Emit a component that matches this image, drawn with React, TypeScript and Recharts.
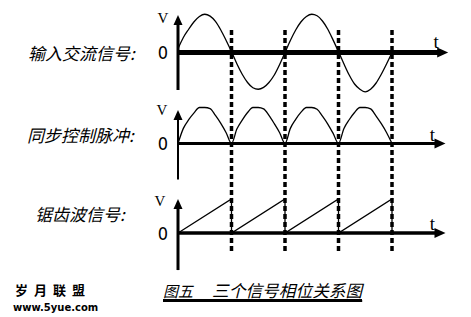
import React from 'react';
import { LineChart, Line, XAxis, YAxis, ReferenceLine } from 'recharts';

// ---------- data ----------
const signalNames = ['输入交流信号:', '同步控制脉冲:', '锯齿波信号:'];
const captionParts = ['图五', '三个信号相位关系图'];
const watermarkLines = ['岁月联盟', 'www.5yue.com'];
const axisTexts = { value: 'V', time: 't', zero: '0' };

const timeDomain = [0, 50];
const sampleTimes = [
  0, 1, 2, 3, 4, 5, 6, 7, 8, 9, 10, 11, 12, 13, 14, 15, 16, 17, 18, 19, 20,
  21, 22, 23, 24, 25, 26, 27, 28, 29, 30, 31, 32, 33, 34, 35, 36, 37, 38, 39, 40,
];
const acValues = [
  0.1, 0.4, 0.62, 0.82, 0.96, 1.02, 0.97, 0.83, 0.6, 0.32, 0.02,
  -0.3, -0.58, -0.8, -0.94, -0.98, -0.93, -0.8, -0.6, -0.32, 0,
  0.32, 0.6, 0.82, 0.96, 1.02, 0.98, 0.84, 0.62, 0.33, 0.02,
  -0.3, -0.6, -0.84, -0.98, -1.05, -0.98, -0.82, -0.58, -0.3, 0,
];
const pulseValues = [
  0, 0.42, 0.66, 0.85, 1, 1, 0.97, 0.78, 0.56, 0.3, 0,
  0.4, 0.65, 0.86, 1, 1, 0.96, 0.78, 0.55, 0.3, 0,
  0.42, 0.67, 0.87, 1, 1, 0.95, 0.76, 0.54, 0.28, 0,
  0.41, 0.66, 0.86, 1, 1, 0.96, 0.77, 0.55, 0.3, 0,
];
const sawTimes = [0, 10, 10, 20, 20, 30, 30, 40, 40];
const sawValues = [0, 1, 0, 1, 0, 1, 0, 1, 0];
const syncTimes = [10, 20, 30, 40];

const acRows = sampleTimes.map((t, i) => ({ t, v: acValues[i] }));
const pulseRows = sampleTimes.map((t, i) => ({ t, v: pulseValues[i] }));
const sawRows = sawTimes.map((t, i) => ({ t, v: sawValues[i] }));

// ---------- layout / style ----------
const W = 471;
const H = 317;
const LEFT = 178;
const RIGHT = 25.5;

type LabelSpec = { text: string; at: 'start' | 'end'; dx: number; dy: number; font: string; size: number };

function arrowShape(head: number, half: number, width: number, labels: LabelSpec[]) {
  return (p: any) => {
    const { x1, y1, x2, y2 } = p;
    if (![x1, y1, x2, y2].every((n) => typeof n === 'number' && isFinite(n))) return <g />;
    const dx = x2 - x1;
    const dy = y2 - y1;
    const len = Math.hypot(dx, dy) || 1;
    const ux = dx / len;
    const uy = dy / len;
    const bx = x2 - ux * head;
    const by = y2 - uy * head;
    const px = -uy;
    const py = ux;
    return (
      <g>
        <line x1={x1} y1={y1} x2={bx + ux} y2={by + uy} stroke="#000" strokeWidth={width} />
        <polygon
          points={`${x2},${y2} ${bx + px * half},${by + py * half} ${bx - px * half},${by - py * half}`}
          fill="#000"
        />
        {labels.map((l, i) => {
          const ox = l.at === 'start' ? x1 : x2;
          const oy = l.at === 'start' ? y1 : y2;
          return (
            <text
              key={i}
              x={ox + l.dx}
              y={oy + l.dy}
              textAnchor="middle"
              dominantBaseline="central"
              fontFamily={l.font}
              fontSize={l.size}
              fill="#000"
            >
              {l.text}
            </text>
          );
        })}
      </g>
    );
  };
}

const SERIF = "'Liberation Serif', serif";
const NARROW = "'Liberation Sans Narrow', 'DejaVu Sans Condensed', sans-serif";

type PanelProps = {
  rows: { t: number; v: number }[];
  top: number;
  bottom: number;
  domain: [number, number];
  xEnd: number;
  yAxisRange: [number, number];
  xWidth: number;
  yWidth: number;
  curve: 'monotone' | 'linear';
  vOffset: [number, number];
  tOffset: [number, number];
  markerRange?: [number, number];
};

function Panel({ rows, top, bottom, domain, xEnd, yAxisRange, xWidth, yWidth, curve, vOffset, tOffset, markerRange }: PanelProps) {
  const xShape = arrowShape(11, 5, xWidth, [
    { text: axisTexts.zero, at: 'start', dx: -15, dy: 0, font: NARROW, size: 18 },
    { text: axisTexts.time, at: 'end', dx: tOffset[0], dy: tOffset[1], font: SERIF, size: 19 },
  ]);
  const yShape = arrowShape(10, 4.5, yWidth, [
    { text: axisTexts.value, at: 'end', dx: vOffset[0], dy: vOffset[1], font: SERIF, size: 15 },
  ]);
  return (
    <div style={{ position: 'absolute', left: 0, top: 0 }}>
      <LineChart width={W} height={H} data={rows} margin={{ top, right: RIGHT, bottom, left: LEFT }}>
        <XAxis type="number" dataKey="t" domain={timeDomain} hide />
        <YAxis type="number" domain={domain} hide />
        {markerRange &&
          syncTimes.map((t) => (
            <ReferenceLine
              key={`m${t}`}
              segment={[{ x: t, y: markerRange[0] }, { x: t, y: markerRange[1] }]}
              ifOverflow="visible"
              stroke="#000"
              strokeWidth={3.5}
              strokeDasharray="5 3"
            />
          ))}
        <ReferenceLine
          segment={[{ x: 0, y: 0 }, { x: xEnd, y: 0 }]}
          ifOverflow="visible"
          shape={xShape}
        />
        <ReferenceLine
          segment={[{ x: 0, y: yAxisRange[0] }, { x: 0, y: yAxisRange[1] }]}
          ifOverflow="visible"
          shape={yShape}
        />
        <Line
          dataKey="v"
          type={curve}
          stroke="#000"
          strokeWidth={1.3}
          dot={false}
          activeDot={false}
          isAnimationActive={false}
        />
      </LineChart>
    </div>
  );
}

const labelStyle: React.CSSProperties = {
  position: 'absolute',
  fontFamily: "'Noto Sans CJK SC', sans-serif",
  fontStyle: 'italic',
  fontSize: 17,
  lineHeight: '17px',
  color: '#000',
  whiteSpace: 'nowrap',
};

export default function App() {
  return (
    <div style={{ position: 'absolute', left: 0, top: 0, width: W, height: H, background: '#fff', overflow: 'hidden' }}>
      <Panel
        rows={acRows}
        top={7.5}
        bottom={219.5}
        domain={[-1.2, 1.2]}
        xEnd={50.5}
        yAxisRange={[-1, 1]}
        xWidth={5}
        yWidth={3}
        curve="monotone"
        vOffset={[-15, 3]}
        tOffset={[-12, -11]}
        markerRange={[0.6, -5.3]}
      />
      <Panel
        rows={pulseRows}
        top={103.9}
        bottom={133.9}
        domain={[-1.1, 1.1]}
        xEnd={50}
        yAxisRange={[-1, 0.93]}
        xWidth={3}
        yWidth={2}
        curve="monotone"
        vOffset={[-16, 0]}
        tOffset={[-13, -9]}
      />
      <Panel
        rows={sawRows}
        top={192.2}
        bottom={43.2}
        domain={[-1.2, 1.2]}
        xEnd={50}
        yAxisRange={[-1.09, 1]}
        xWidth={3.5}
        yWidth={3}
        curve="linear"
        vOffset={[-18, 2]}
        tOffset={[-13, -10]}
      />

      <div style={{ ...labelStyle, left: 28, top: 52 - 8.5 }}>{signalNames[0]}</div>
      <div style={{ ...labelStyle, left: 27, top: 134 - 8.5 }}>{signalNames[1]}</div>
      <div style={{ ...labelStyle, left: 35, top: 213 - 8.5 }}>{signalNames[2]}</div>

      <div
        style={{
          ...labelStyle,
          left: 163,
          top: 281,
          width: 199,
          height: 22,
          lineHeight: '18px',
          fontSize: 16.7,
          textDecoration: 'underline',
          textDecorationThickness: 2,
          textUnderlineOffset: 3,
          textDecorationSkipInk: 'none',
        }}
      >
        <span style={{ fontSize: 15 }}>{captionParts[0]}</span>
        <span style={{ display: 'inline-block', width: 19, textDecoration: 'underline', textDecorationThickness: 2, textUnderlineOffset: 3 }}>{'\u00a0\u00a0\u00a0\u00a0'}</span>
        <span>{captionParts[1]}</span>
      </div>
      <div style={{ position: 'absolute', left: 163, top: 299, width: 199, height: 3, background: '#000', zIndex: 5 }} />

      <div
        style={{
          position: 'absolute',
          left: 15,
          top: 283,
          fontFamily: "'Noto Sans CJK SC', sans-serif",
          fontWeight: 'bold',
          fontSize: 13,
          lineHeight: '13px',
          letterSpacing: 6,
          whiteSpace: 'nowrap',
        }}
      >
        {watermarkLines[0]}
      </div>
      <div
        style={{
          position: 'absolute',
          left: 13,
          top: 303,
          fontFamily: "'DejaVu Sans', sans-serif",
          fontWeight: 'bold',
          fontSize: 10,
          lineHeight: '10px',
          whiteSpace: 'nowrap',
        }}
      >
        {watermarkLines[1]}
      </div>
    </div>
  );
}
